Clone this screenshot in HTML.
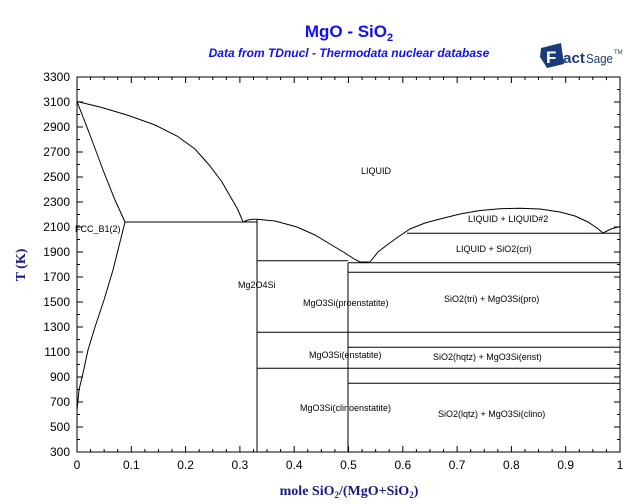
<!DOCTYPE html>
<html><head><meta charset="utf-8"><style>
html,body{margin:0;padding:0;background:#fff;width:640px;height:504px;overflow:hidden}
svg{display:block}
</style></head><body>
<svg id="s" width="640" height="504" xmlns="http://www.w3.org/2000/svg" font-family="Liberation Sans, sans-serif">
<rect width="640" height="504" fill="#fff"/>
<text x="349" y="37" text-anchor="middle" font-size="17" font-weight="bold" fill="#1010f0">MgO - SiO<tspan font-size="11" dy="4">2</tspan></text>
<text x="349" y="57" text-anchor="middle" font-size="12" font-weight="bold" font-style="italic" fill="#1010f0">Data from TDnucl - Thermodata nuclear database</text>
<g>
<polygon points="541,48 561,43 564,64 547,68 540,57" fill="#1a3a7a"/>
<text x="546" y="63" font-size="17" font-weight="bold" fill="#fff">F</text>
<text x="563" y="63" font-size="15" font-weight="bold" fill="#1a3a7a" textLength="22" lengthAdjust="spacingAndGlyphs">act</text>
<text x="586" y="63" font-size="13" fill="#1a3a7a" textLength="27" lengthAdjust="spacingAndGlyphs">Sage</text>
<text x="614" y="54" font-size="6" fill="#1a3a7a">TM</text>
</g>
<g id="ax" stroke="#000" stroke-width="1" fill="none">
<rect x="77" y="77" width="543" height="375"/>
</g>
<g stroke="#000" stroke-width="1" fill="none">
<path d="M77,101.5 L100,107 L127,115 L155,125 L177,136 L195,149 L210,166 L222,182 L230,196 L237,208 L241,217 L243,222"/>
<path d="M77,101.5 L90,135 L103,170 L115,200 L125,222"/>
<path d="M125,222 L113,270 L104,300 L95,327 L88,350 L83,373 L79,390 L78,400 L77,410 L77,423"/>
<line x1="125" y1="222" x2="257" y2="222"/>
<path d="M243,222 L248,220 L253,219.3 L257,219.3"/>
<line x1="257" y1="219" x2="257" y2="452"/>
<path d="M257,219.3 L275,221 L297,227 L315,235 L330,244 L345,253 L355,259.5 L360,262 L370,262"/>
<path d="M370,262 L378,252 L387,245 L398,237 L410,229 L425,223 L440,219 L460,214 L480,210.5 L500,208.7 L520,208.3 L540,209 L560,212 L575,216 L588,222 L597,228 L603,233 L611,229 L620,226.5"/>
<line x1="407" y1="233.3" x2="620" y2="233.3"/>
<line x1="257" y1="260.7" x2="348" y2="260.7"/>
<line x1="348" y1="262.7" x2="348" y2="452"/>
<line x1="348" y1="262.7" x2="620" y2="262.7"/>
<line x1="348" y1="272.3" x2="620" y2="272.3"/>
<line x1="257" y1="332.3" x2="620" y2="332.3"/>
<line x1="348" y1="347.3" x2="620" y2="347.3"/>
<line x1="257" y1="368.3" x2="620" y2="368.3"/>
<line x1="348" y1="383.3" x2="620" y2="383.3"/>
</g>
<g font-size="9" fill="#000">
<text x="361" y="174">LIQUID</text>
<text x="75" y="232">FCC_B1(2)</text>
<text x="468" y="222">LIQUID + LIQUID#2</text>
<text x="456" y="252">LIQUID + SiO2(cri)</text>
<text x="238" y="288">Mg2O4Si</text>
<text x="303" y="306">MgO3Si(proenstatite)</text>
<text x="444" y="302">SiO2(tri) + MgO3Si(pro)</text>
<text x="309" y="358">MgO3Si(enstatite)</text>
<text x="433" y="360">SiO2(hqtz) + MgO3Si(enst)</text>
<text x="300" y="411">MgO3Si(clinoenstatite)</text>
<text x="438" y="417">SiO2(lqtz) + MgO3Si(clino)</text>
</g>
<g id="yl" font-size="12" fill="#000" text-anchor="end"></g>
<g id="xl" font-size="12" fill="#000" text-anchor="middle"></g>
<text transform="translate(25,265) rotate(-90)" text-anchor="middle" font-family="Liberation Serif, serif" font-weight="bold" font-size="14" fill="#1a1a80">T (K)</text>
<text x="349" y="495" text-anchor="middle" font-family="Liberation Serif, serif" font-weight="bold" font-size="14" fill="#1a1a80">mole SiO<tspan font-size="9" dy="3">2</tspan><tspan dy="-3">/(MgO+SiO</tspan><tspan font-size="9" dy="3">2</tspan><tspan dy="-3">)</tspan></text>
</svg>
<script>
var ns="http://www.w3.org/2000/svg",ax=document.getElementById('ax'),yl=document.getElementById('yl'),xl=document.getElementById('xl');
function L(a,b,c,d){var l=document.createElementNS(ns,'line');l.setAttribute('x1',a);l.setAttribute('y1',b);l.setAttribute('x2',c);l.setAttribute('y2',d);ax.appendChild(l);}
function T(g,x,y,s){var t=document.createElementNS(ns,'text');t.setAttribute('x',x);t.setAttribute('y',y);t.textContent=s;g.appendChild(t);}
for(var T0=300;T0<=3300;T0+=100){var y=77+(3300-T0)*0.125;var m=(T0%200==100)?6:3;L(77,y,77+m,y);L(620,y,620-m,y);if(T0%200==100)T(yl,70,y+4,T0);}
for(var i=0;i<=40;i++){var x=77+543*i/40;var m=(i%4==0)?6:3;L(x,452,x,452-m);L(x,77,x,77+m);if(i%4==0){var v=i/40;T(xl,x,469,v==0?'0':v==1?'1':v.toFixed(1));}}
</script>
</body></html>
